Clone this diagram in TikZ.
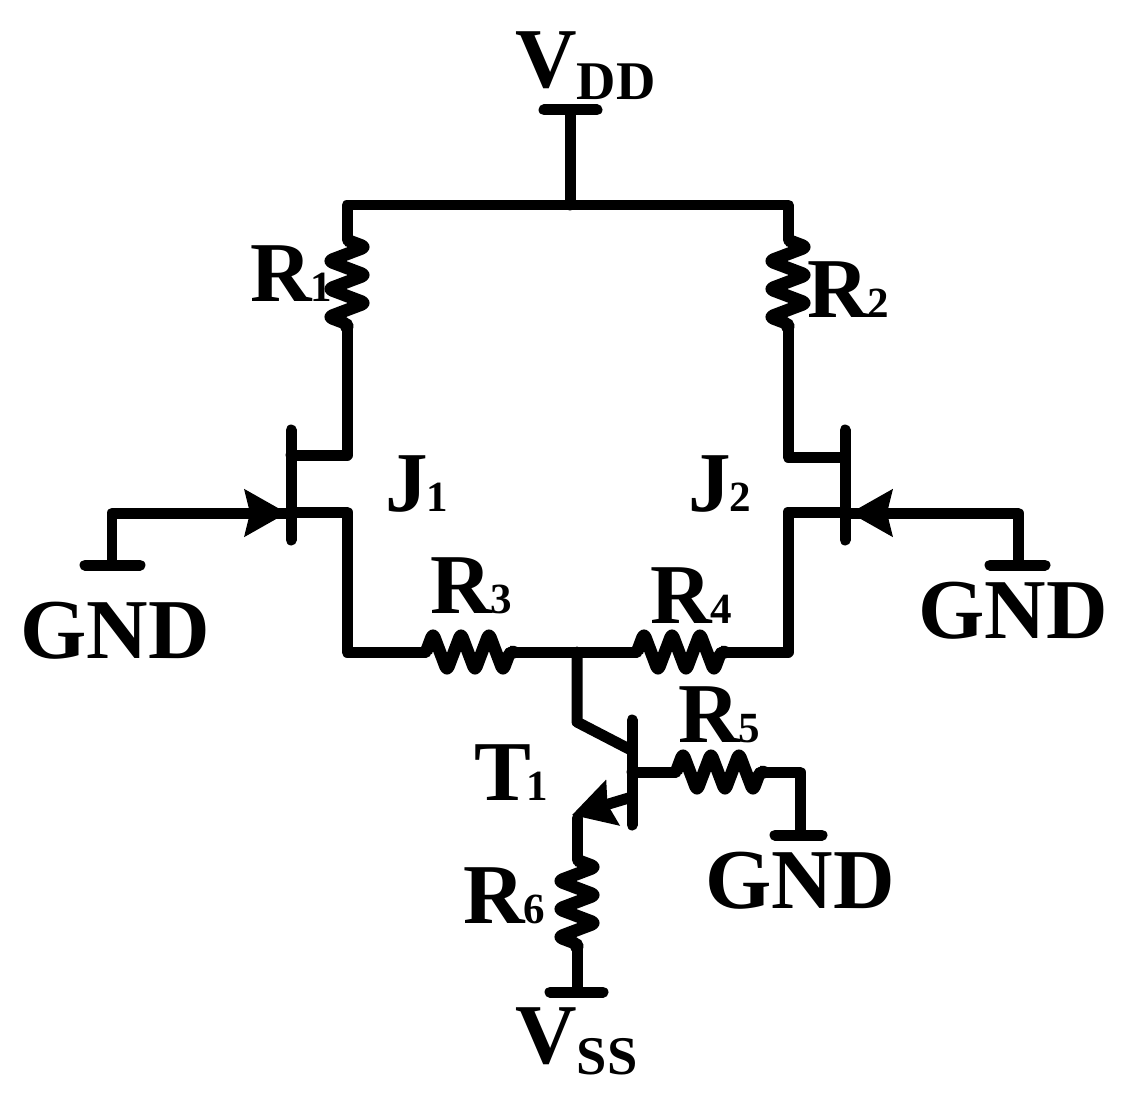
\documentclass[tikz,border=0pt]{standalone}
\usepackage{fontspec}
\setmainfont{Liberation Serif}
\usetikzlibrary{arrows.meta,decorations.pathmorphing}
\newcommand{\numsub}[1]{\kern-1pt{\fontsize{24.5}{24.5}\selectfont #1}}
\newcommand{\railsub}[1]{\raisebox{-0.23cm}{\fontsize{31}{31}\selectfont #1}}
\begin{document}
\begin{tikzpicture}[
      x=0.02cm, y=-0.02cm,
      wire/.style={line width=0.22cm, line cap=round, line join=round},
      res/.style={line width=0.25cm, line join=round, rounded corners=0.08cm,
        decorate, decoration={zigzag, segment length=0.56cm, amplitude=0.37cm}},
      tip/.style={line width=0.22cm, line cap=butt, -{Stealth[length=0.84cm, width=0.92cm, inset=0.1cm]}},
      lab/.style={anchor=base west, inner sep=0pt, font=\fontsize{48.5}{48.5}\selectfont\bfseries}
    ]
    \useasboundingbox (0,0) rectangle (1127,1105);
    % supply and rail
    \path (544,110) coordinate(vddl) (597,110) coordinate(vddr) (570,110) coordinate(vdd)
    (570,205) coordinate(top) (347,205) coordinate(topl) (788,205) coordinate(topr);
    % upper resistors and J1, J2
    \path (347,240) coordinate(r1a) (347,324) coordinate(r1b)
    (788,240) coordinate(r2a) (788,324) coordinate(r2b)
    (291,430) coordinate(j1t) (291,540) coordinate(j1b)
    (291,455) coordinate(j1d) (347,455) coordinate(j1dc)
    (291,512) coordinate(j1s) (347,512) coordinate(j1sc)
    (845,430) coordinate(j2t) (845,540) coordinate(j2b)
    (845,457) coordinate(j2d) (788,457) coordinate(j2dc)
    (845,512) coordinate(j2s) (788,512) coordinate(j2sc);
    % gates
    \path (85,565) coordinate(g1l) (140,565) coordinate(g1r) (112,565) coordinate(g1)
    (112,513) coordinate(g1c) (287,513) coordinate(g1a) (291,513) coordinate(g1t)
    (990,565) coordinate(g2l) (1045,565) coordinate(g2r) (1018,565) coordinate(g2)
    (1018,513) coordinate(g2c) (850,513) coordinate(g2a) (845,513) coordinate(g2t);
    % lower part
    \path (347,652) coordinate(r3c) (426,652) coordinate(r3a) (510,652) coordinate(r3b)
    (637,652) coordinate(r4a) (721,652) coordinate(r4b) (788,652) coordinate(r4c)
    (577,652) coordinate(mid) (577,722) coordinate(t1k) (631,750) coordinate(t1c)
    (632,720) coordinate(t1t) (632,825) coordinate(t1b)
    (632,772) coordinate(t1g) (676,772) coordinate(r5a) (760,772) coordinate(r5b)
    (800,772) coordinate(r5c) (800,835) coordinate(g3)
    (775,835) coordinate(g3l) (822,835) coordinate(g3r)
    (632,797) coordinate(t1e) (572,815) coordinate(t1a) (577,818) coordinate(t1m)
    (577,860) coordinate(r6a) (577,944) coordinate(r6b) (577,992) coordinate(vss)
    (550,992) coordinate(vssl) (603,992) coordinate(vssr);

    \draw[wire] (vddl) -- (vddr);
    \draw[wire] (vdd) -- (top);
    \draw[wire] (r1a) -- (topl) -- (topr) -- (r2a);
    \draw[res] (r1a) -- (r1b);
    \draw[res] (r2a) -- (r2b);
    \draw[wire] (r1b) -- (j1dc) -- (j1d);
    \draw[wire] (r2b) -- (j2dc) -- (j2d);
    \draw[wire] (j1t) -- (j1b);
    \draw[wire] (j2t) -- (j2b);
    \draw[wire] (j1s) -- (j1sc) -- (r3c) -- (r3a);
    \draw[wire] (j2s) -- (j2sc) -- (r4c) -- (r4b);
    \draw[res] (r3a) -- (r3b);
    \draw[res] (r4a) -- (r4b);
    \draw[wire] (r3b) -- (r4a);
    \draw[wire] (g1l) -- (g1r);
    \draw[wire] (g2l) -- (g2r);
    \draw[wire] (g1) -- (g1c) -- (g1t);
    \draw[wire] (g2) -- (g2c) -- (g2t);
    \draw[tip] (g1c) -- (g1a);
    \draw[tip] (g2c) -- (g2a);
    \draw[wire] (mid) -- (t1k) -- (t1c);
    \draw[wire] (t1t) -- (t1b);
    \draw[wire] (t1g) -- (r5a);
    \draw[res] (r5a) -- (r5b);
    \draw[wire] (r5b) -- (r5c) -- (g3);
    \draw[wire] (g3l) -- (g3r);
    \draw[tip] (t1e) -- (t1a);
    \draw[wire] (t1m) -- (r6a);
    \draw[res] (r6a) -- (r6b);
    \draw[wire] (r6b) -- (vss);
    \draw[wire] (vssl) -- (vssr);

    \path (515,88) node(lvdd) [lab] {V\railsub{DD}}
    (515,1063) node(lvss) [lab] {V\railsub{SS}}
    (20,658) node(lgnd1) [lab] {GND}
    (918,638) node(lgnd2) [lab] {GND}
    (705,908) node(lgnd3) [lab] {GND}
    (250,301) node(lr1) [lab] {R\numsub{1}}
    (807,317) node(lr2) [lab] {R\numsub{2}}
    (430,613) node(lr3) [lab] {R\numsub{3}}
    (650,623) node(lr4) [lab] {R\numsub{4}}
    (678,742) node(lr5) [lab] {R\numsub{5}}
    (463,923) node(lr6) [lab] {R\numsub{6}}
    (474,800) node(lt1) [lab] {T\kern-1.5pt\numsub{1}}
    (385,511) node(lj1) [lab] {J\numsub{1}}
    (688,511) node(lj2) [lab] {J\numsub{2}};
  \end{tikzpicture}
\end{document}
